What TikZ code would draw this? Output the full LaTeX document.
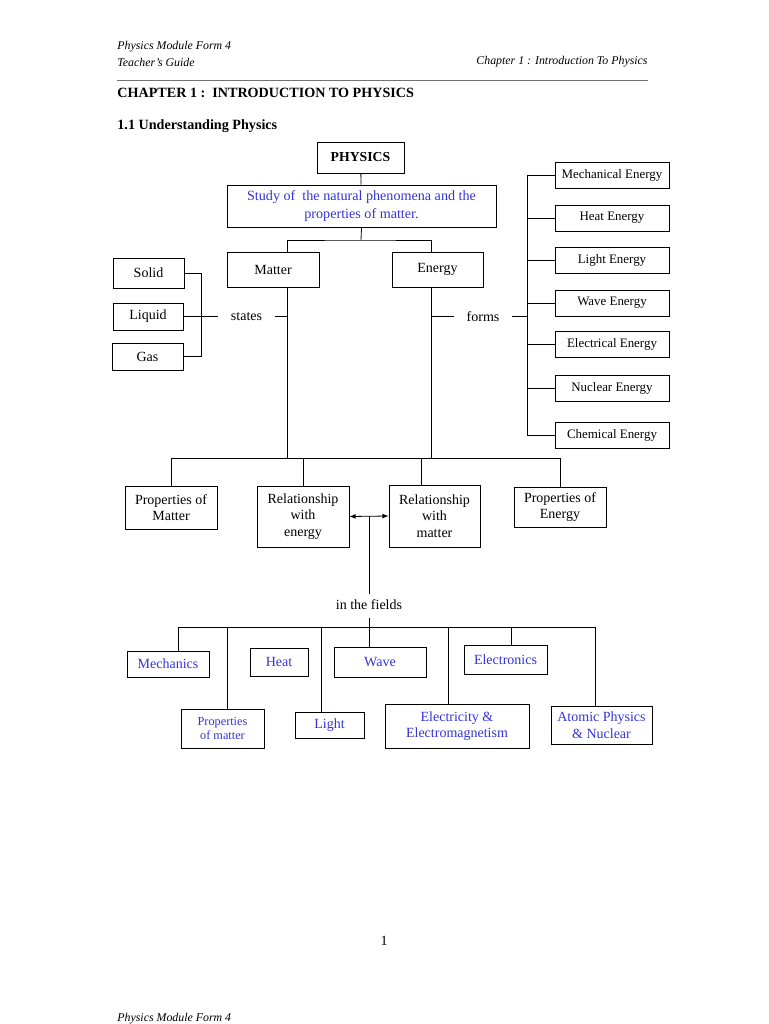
\documentclass[tikz,border=0pt]{standalone}
\usepackage{fontspec}
\setmainfont{Liberation Serif}
\usetikzlibrary{arrows}
\usetikzlibrary{positioning}
\tikzset{box/.style = {draw, rectangle, inner sep = 0, align = center}}
\tikzset{lbl/.style = {inner sep = 0, align = center}}
\tikzset{sz/.style 2 args = {minimum width = #1*0.75pt, minimum height = #2*0.75pt}}
\definecolor{mblue}{rgb}{0.2, 0.2, 0.85}
\definecolor{mgray}{rgb}{0.45, 0.45, 0.45}
\newcommand{\fhead}{\fontsize{8.9}{11}\selectfont\itshape}
\newcommand{\ftitle}{\fontsize{10.6}{13}\selectfont\bfseries}
\newcommand{\fnorm}{\fontsize{10.5}{12.5}\selectfont}
\newcommand{\fbig}{\fontsize{10.6}{12.8}\selectfont}
\newcommand{\fsmall}{\fontsize{9.7}{12}\selectfont}
\newcommand{\ftiny}{\fontsize{9.2}{11}\selectfont}

\begin{document}
\begin{tikzpicture}[x = 0.75pt, y = -0.75pt, line width = 0.6pt]
  \useasboundingbox (0, 0) rectangle (768, 1024);
  % page header
  \node [lbl, anchor = west, font = \fhead] (hdl) at (117, 47) {Physics Module Form 4};
  \node [lbl, anchor = west, font = \fhead] (hdg) at (117, 62) {Teacher's Guide};
  \node [lbl, anchor = east, font = \fhead] (hdr) at (648, 62) {Chapter 1 : Introduction To Physics};
  \coordinate (rl) at (117, 80);
  \coordinate (rr) at (648, 80);
  \draw [mgray, line width = 0.5pt] (rl) -- (rr);
  \node [lbl, anchor = west, font = \ftitle] (chap) at (117, 93) {CHAPTER 1 :\ \ INTRODUCTION TO PHYSICS};
  \node [lbl, anchor = west, font = \ftitle] (sec) at (117, 126) {1.1 Understanding Physics};
  % top of the tree
  \node [box, sz = {87}{31}, font = \fontsize{10.3}{12}\selectfont\bfseries] (phys) at (360.5, 157.5) {PHYSICS};
  \node [box, sz = {269}{42}, font = \fbig, text = mblue] (study) at (361.5, 206)
    {Study of\ \ the natural phenomena and the\\properties of matter.};
  \node [box, sz = {92}{35}, font = \fnorm] (matter) at (273, 269.5) {Matter};
  \node [box, sz = {91}{35}, font = \fnorm] (energy) at (437.5, 269.5) {Energy};
  \coordinate (tee) at (361, 240);
  \coordinate (mx) at (287, 458);
  \coordinate (ex) at (431, 458);
  \draw (phys) -- (study);
  \draw (study.south) -- (tee);
  \draw (mx |- matter.north) |- (tee) -| (ex |- energy.north);
  \draw (mx |- matter.south) -- (mx);
  \draw (ex |- energy.south) -- (ex);
  % states of matter
  \node [box, sz = {71}{30}, font = \fnorm] (solid) at (148.5, 273) {Solid};
  \node [box, sz = {70}{27}, font = \fnorm] (liquid) at (148, 316.5) {Liquid};
  \node [box, sz = {71}{27}, font = \fnorm] (gas) at (147.5, 356.5) {Gas};
  \node [lbl, sz = {57}{14}, font = \fnorm] (states) at (246.5, 316.5) {states};
  \coordinate (sb) at (201, 316.5);
  \draw (solid.east) -| (sb |- gas.east) -- (gas.east);
  \draw (liquid.east) -- (states.west);
  \draw (states.east) -- (mx |- states.east);
  % forms of energy
  \node [lbl, sz = {57}{14}, font = \fnorm] (forms) at (483, 316.5) {forms};
  \coordinate (fb) at (527, 316.5);
  \draw (ex |- forms.west) -- (forms.west);
  \draw (forms.east) -- (fb);
  \foreach \n/\t/\y in {mech/Mechanical Energy/175, heat/Heat Energy/218,
      light/Light Energy/260.5, wave/Wave Energy/303, elec/Electrical Energy/344.5,
      nucl/Nuclear Energy/388.5, chem/Chemical Energy/435} {
    \node [box, sz = {114}{26}, font = \fsmall] (\n) at (612, \y) {\t};
    \draw (fb |- \n.west) -- (\n.west);
  }
  \draw (fb |- mech.west) -- (fb |- chem.west);
  % second level
  \node [box, sz = {92}{43}, font = \fnorm] (pm) at (171, 507.5) {Properties of\\Matter};
  \node [box, sz = {92}{61}, font = \fnorm] (re) at (303, 516.5) {Relationship\\with\\energy};
  \node [box, sz = {91}{62}, font = \fnorm] (rm) at (434.5, 516) {Relationship\\with\\matter};
  \node [box, sz = {92}{40}, font = \fnorm] (pe) at (560, 507) {Properties of\\Energy};
  \coordinate (rmx) at (421, 458);
  \draw (pm.north) |- (pe.north |- mx) -- (pe.north);
  \draw (re.north) -- (re.north |- mx);
  \draw (rm.north -| rmx) -- (rmx);
  \draw [latex-latex] (re.east) -- (rm.west);
  % fields of physics
  \coordinate (ar) at (369, 516);
  \node [lbl, font = \fnorm] (fields) at (369, 605) {in the fields};
  \draw (ar) -- ([yshift = 4.5pt] fields.north);
  \node [box, sz = {82}{26}, font = \fnorm, text = mblue] (mecha) at (168, 664) {Mechanics};
  \node [box, sz = {58}{28}, font = \fnorm, text = mblue] (heatf) at (279, 662) {Heat};
  \node [box, sz = {92}{30}, font = \fnorm, text = mblue] (wavef) at (380, 662) {Wave};
  \node [box, sz = {83}{29}, font = \fnorm, text = mblue] (etron) at (505.5, 659.5) {Electronics};
  \node [box, sz = {83}{39}, font = \ftiny, text = mblue] (pmat) at (222.5, 728.5) {Properties\\of matter};
  \node [box, sz = {69}{26}, font = \fnorm, text = mblue] (lightf) at (329.5, 725) {Light};
  \node [box, sz = {144}{44}, font = \fnorm, text = mblue] (emag) at (457, 726) {Electricity \&\\Electromagnetism};
  \node [box, sz = {101}{38}, font = \fnorm, text = mblue] (atom) at (601.5, 725) {Atomic Physics\\\& Nuclear};
  \coordinate (fl) at (178, 627);
  \coordinate (fr) at (595, 627);
  \draw (fl) -- (fr);
  \draw ([yshift = -6pt] fields.south) -- (wavef.north -| ar);
  \foreach \x/\n in {178/mecha, 227/pmat, 321/lightf, 448/emag, 511/etron, 595/atom}
    \draw (\x, 627) -- (\x, 627 |- \n.north);
  % page footer
  \node [lbl, font = \fnorm] (pgno) at (384, 941) {1};
  \node [lbl, anchor = west, font = \fhead] (ftr) at (117, 1019) {Physics Module Form 4};
\end{tikzpicture}
\end{document}
